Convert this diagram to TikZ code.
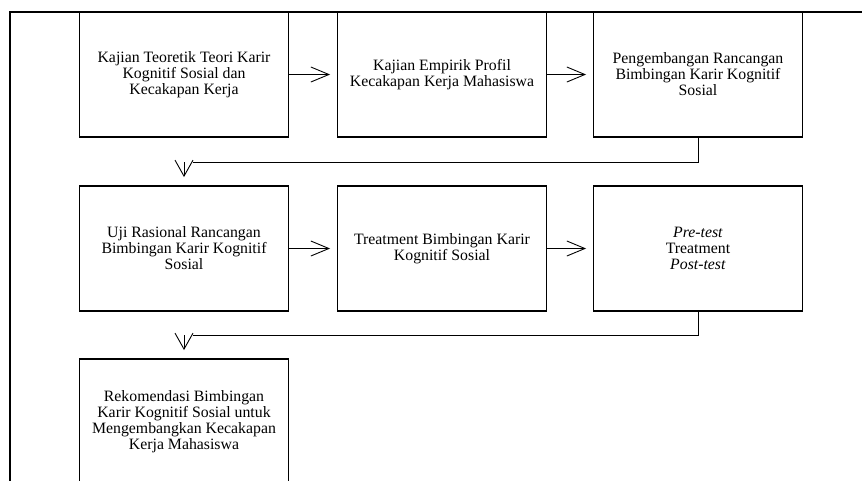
\documentclass[tikz,border=0pt]{standalone}
\usepackage{fontspec}
\setmainfont{Liberation Serif}
\usetikzlibrary{arrows.meta}
\tikzset{
  stepbox/.style={draw, line width=1.9pt, minimum width=209pt, minimum height=125pt,
    align=center, inner sep=0pt, font=\fontsize{15.8}{16}\selectfont},
  frameline/.style={line width=1.2pt},
  conn/.style={line width=0.9pt},
  harr/.style={conn, -{Straight Barb[length=18pt,width=15pt,line width=0.9pt]}, shorten >=6.5pt},
  varr/.style={conn, -{Straight Barb[length=16pt,width=18pt,line width=0.9pt]}, shorten >=8pt}
}
\begin{document}
\begin{tikzpicture}[x=1pt,y=-1pt]
\useasboundingbox (0,0) rectangle (862,480);
\fill[white] (0,0) rectangle (862,480);
\clip (0,0) rectangle (862,480);
% outer frame
\coordinate (ftop) at (870,12);
\coordinate (fcorner) at (10,12);
\coordinate (fbot) at (10,490);
\draw[frameline] (ftop) -- (fcorner) -- (fbot);
% boxes
\node[stepbox] (b1) at (184,74.5) {Kajian Teoretik Teori Karir\\Kognitif Sosial dan\\Kecakapan Kerja};
\node[stepbox] (b2) at (442,74.5) {Kajian Empirik Profil\\Kecakapan Kerja Mahasiswa};
\node[stepbox] (b3) at (698,74.5) {Pengembangan Rancangan\\Bimbingan Karir Kognitif\\Sosial};
\node[stepbox] (b4) at (184,248.5) {Uji Rasional Rancangan\\Bimbingan Karir Kognitif\\Sosial};
\node[stepbox] (b5) at (442,248.5) {Treatment Bimbingan Karir\\Kognitif Sosial};
\node[stepbox] (b6) at (698,248.5) {\textit{Pre-test}\\Treatment\\\textit{Post-test}};
\node[stepbox] (b7) at (184,421.5) {Rekomendasi Bimbingan\\Karir Kognitif Sosial untuk\\Mengembangkan Kecakapan\\Kerja Mahasiswa};
% horizontal arrows
\draw[harr] (b1) -- (b2);
\draw[harr] (b2) -- (b3);
\draw[harr] (b4) -- (b5);
\draw[harr] (b5) -- (b6);
% row 1 -> row 2
\coordinate (k1) at (193,162);
\coordinate (k2) at (184,162);
\draw[conn] (b3.south) |- (k1);
\draw[varr] (k2) -- (b4.north);
% row 2 -> row 3
\coordinate (m1) at (193,335);
\coordinate (m2) at (184,335);
\draw[conn] (b6.south) |- (m1);
\draw[varr] (m2) -- (b7.north);
\end{tikzpicture}
\end{document}
